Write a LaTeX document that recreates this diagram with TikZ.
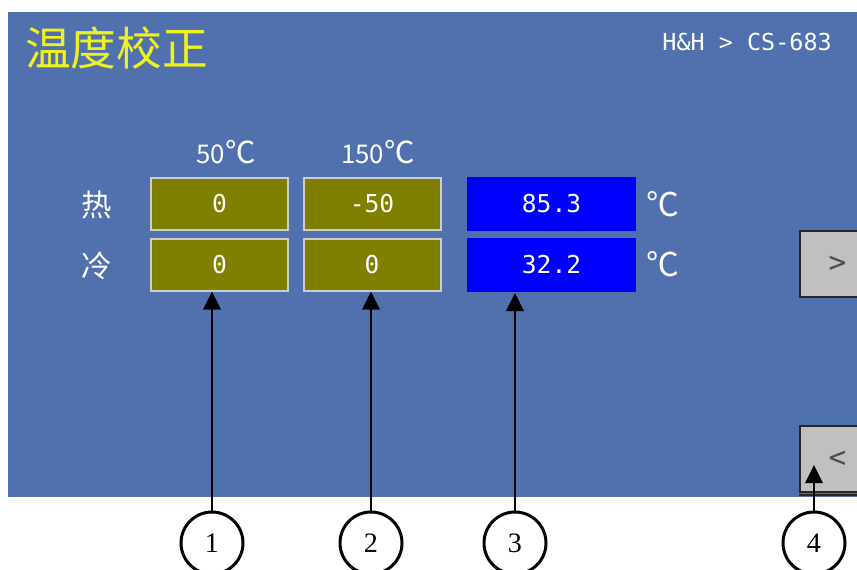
\documentclass[tikz,border=0pt]{standalone}
\usepackage{fontspec}
\setmainfont{Liberation Serif}
\setmonofont{DejaVu Sans Mono}
\newfontfamily\cjk{Noto Sans CJK SC}
\usepackage{xcolor}
\usepackage{tikz}
\usetikzlibrary{shapes,arrows,positioning,calc,arrows.meta}

\def\px{0.3mm}

\definecolor{screenblue}{RGB}{81,112,174}
\definecolor{fieldolive}{RGB}{128,128,0}
\definecolor{fieldblue}{RGB}{0,0,255}
\definecolor{titleyellow}{RGB}{238,242,30}
\definecolor{btngray}{RGB}{192,192,192}
\definecolor{fieldrim}{RGB}{205,205,205}

\tikzset{
    field/.style={rectangle, fill=fieldolive, draw=fieldrim, line width=0.6mm,
        minimum width=137*\px, minimum height=52*\px, inner sep=0pt,
        text=white, font=\ttfamily\fontsize{21}{21}\selectfont},
    reading/.style={field, fill=fieldblue, draw=none,
        minimum width=169*\px, minimum height=54*\px},
    screentext/.style={text=white, inner sep=0pt, font=\cjk\fontsize{22}{22}\selectfont},
    btn/.style={rectangle, fill=btngray, draw=black!85, line width=0.6mm,
        minimum width=75*\px, minimum height=66*\px, inner sep=0pt,
        text=black!70, font=\ttfamily\fontsize{25}{25}\selectfont},
    callout/.style={circle, draw, line width=0.9mm, minimum size=62*\px,
        inner sep=0pt, font=\fontsize{24}{24}\selectfont},
    callarrow/.style={line width=0.6mm, -{Triangle[length=5.4mm, width=5.2mm]}}
}

\begin{document}
\begin{tikzpicture}[x=\px, y=-\px]

        \clip (0,0) rectangle (857,569);
        \fill[white] (0,0) rectangle (857,569);

        % screen
        \fill[screenblue] (8,12) rectangle (857,497);
        \node[anchor=west, inner sep=0pt, text=titleyellow, font=\cjk\fontsize{39}{39}\selectfont] (title) at (25,48) {温度校正};
        \node[anchor=east, inner sep=0pt, text=white, font=\ttfamily\fontsize{20}{20}\selectfont] (brand) at (832,42) {H\&H > CS-683};

        % column and row labels
        \node[screentext] (col50) at (226,152) {50{\fontsize{26}{26}\selectfont ℃}};
        \node[screentext] (col150) at (378,152) {150{\fontsize{26}{26}\selectfont ℃}};
        \node[screentext, font=\cjk\fontsize{26}{26}\selectfont] (rowhot) at (97,205) {热};
        \node[screentext, font=\cjk\fontsize{26}{26}\selectfont] (rowcold) at (97,266) {冷};

        % fields
        \node[field] (hot50) at (219.5,203.5) {0};
        \node[field] (hot150) at (372,203.5) {-50};
        \node[field] (cold50) at (219.5,264.5) {0};
        \node[field] (cold150) at (372,264.5) {0};
        \node[reading] (hotread) at (551.5,204) {85.3};
        \node[reading] (coldread) at (551.5,265) {32.2};
        \node[screentext, font=\cjk\fontsize{28}{28}\selectfont] (hotunit) at (663,204) {℃};
        \node[screentext, font=\cjk\fontsize{28}{28}\selectfont] (coldunit) at (663,264) {℃};

        % buttons
        \node[btn, anchor=north west] (next) at (799,230) {>};
        \node[btn, anchor=north west] (prev) at (799,425) {<};
        \draw[black!85, line width=0.4mm] (799,495) -- (857,495);

        % callouts
        \node[callout] (n1) at (212,543) {1};
        \node[callout] (n2) at (371,543) {2};
        \node[callout] (n3) at (515,543) {3};
        \node[callout] (n4) at (814,543) {4};
        \coordinate (tip4) at (814,465);

        \draw[callarrow] (n1.north) -- (n1.north |- cold50.south);
        \draw[callarrow] (n2.north) -- (n2.north |- cold150.south);
        \draw[callarrow] (n3.north) -- (n3.north |- coldread.south);
        \draw[callarrow] (n4.north) -- (tip4);
        \end{tikzpicture}
\end{document}
